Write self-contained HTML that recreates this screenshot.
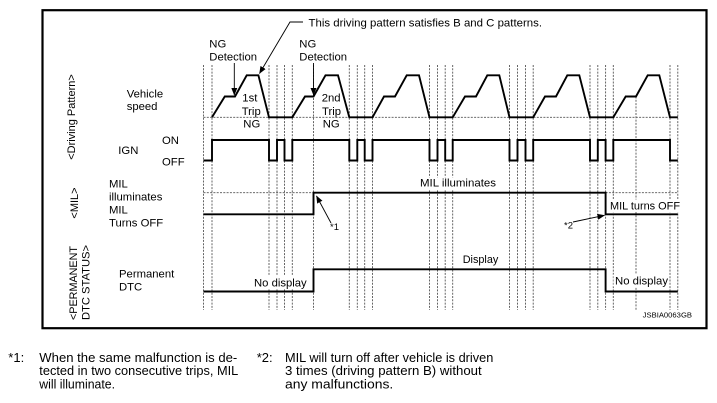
<!DOCTYPE html>
<html><head><meta charset="utf-8">
<style>html,body{margin:0;padding:0;background:#fff}svg{display:block}</style>
</head>
<body>
<svg width="717" height="403" viewBox="0 0 717 403" xmlns="http://www.w3.org/2000/svg" font-family="'Liberation Sans', Arial, sans-serif" fill="#000">
<defs>
<marker id="ah" markerWidth="8" markerHeight="6" refX="7" refY="3" orient="auto" markerUnits="userSpaceOnUse">
<path d="M0,0 L7.5,3 L0,6 z" fill="#000"/>
</marker>
</defs>
<rect x="0" y="0" width="717" height="403" fill="#fff"/>
<rect x="42.5" y="10.2" width="664" height="318" fill="none" stroke="#000" stroke-width="2.2"/>

<!-- vertical dashed lines -->
<g stroke="#555" stroke-width="0.9" stroke-dasharray="2,1.3" fill="none">
<line x1="203.5" y1="65" x2="203.5" y2="310"/>
<line x1="212" y1="65" x2="212" y2="310"/>
<line x1="269" y1="65" x2="269" y2="310"/>
<line x1="277" y1="65" x2="277" y2="310"/>
<line x1="284.5" y1="65" x2="284.5" y2="310"/>
<line x1="292.3" y1="65" x2="292.3" y2="310"/>
<line x1="313.5" y1="65" x2="313.5" y2="310"/>
<line x1="349.3" y1="65" x2="349.3" y2="310"/>
<line x1="357.3" y1="65" x2="357.3" y2="310"/>
<line x1="364.7" y1="65" x2="364.7" y2="310"/>
<line x1="372.5" y1="65" x2="372.5" y2="310"/>
<line x1="429.5" y1="65" x2="429.5" y2="310"/>
<line x1="437.5" y1="65" x2="437.5" y2="310"/>
<line x1="445.2" y1="65" x2="445.2" y2="310"/>
<line x1="452.7" y1="65" x2="452.7" y2="310"/>
<line x1="509.5" y1="65" x2="509.5" y2="310"/>
<line x1="517.5" y1="65" x2="517.5" y2="310"/>
<line x1="525.5" y1="65" x2="525.5" y2="310"/>
<line x1="533.2" y1="65" x2="533.2" y2="310"/>
<line x1="590" y1="65" x2="590" y2="310"/>
<line x1="597.8" y1="65" x2="597.8" y2="310"/>
<line x1="605.6" y1="65" x2="605.6" y2="310"/>
<line x1="613.3" y1="65" x2="613.3" y2="310"/>
<line x1="636" y1="96.5" x2="636" y2="310"/>
<line x1="670" y1="65" x2="670" y2="310"/>
<line x1="677.8" y1="65" x2="677.8" y2="310"/>
<!-- horizontal dashed -->
<line x1="203.5" y1="117.3" x2="677.8" y2="117.3"/>
<line x1="203.5" y1="192.7" x2="313.5" y2="192.7"/>
<line x1="605.6" y1="192.7" x2="677.8" y2="192.7"/>
</g>

<!-- white backgrounds behind labels -->
<g fill="#fff" stroke="none">
<rect x="418.5" y="177.5" width="79" height="12.5"/>
<rect x="608.5" y="199.5" width="73" height="12.5"/>
<rect x="461.5" y="253" width="38" height="13"/>
<rect x="252.5" y="276" width="56" height="13"/>
<rect x="613.5" y="274" width="56" height="13"/>
</g>

<!-- waveforms -->
<g stroke="#000" stroke-width="1.9" fill="none" stroke-linejoin="miter">
<path d="M212,117.3 L224.8,96.5 L235,96.5 L246.7,75.3 L258.4,75.3 L269,117.3 L292.3,117.3 L305,96.5 L313.5,96.5 L325.5,75.3 L338,75.3 L349.3,117.3 L372.5,117.3 L384,96.5 L395,96.5 L406.7,75.3 L419,75.3 L429.5,117.3 L452.7,117.3 L465,96.5 L476,96.5 L487.3,75.3 L499.3,75.3 L509.5,117.3 L533.2,117.3 L545,96.5 L556,96.5 L567.3,75.3 L579.3,75.3 L590,117.3 L613.3,117.3 L625.7,96.5 L636,96.5 L647.7,75.3 L659.3,75.3 L670,117.3 L677.8,117.3"/>
<path d="M203.5,160.5 H212 V140 H269 V160.5 H277 V140 H284.5 V160.5 H292.3 V140 H349.3 V160.5 H357.3 V140 H364.7 V160.5 H372.5 V140 H429.5 V160.5 H437.5 V140 H445.2 V160.5 H452.7 V140 H509.5 V160.5 H517.5 V140 H525.5 V160.5 H533.2 V140 H590 V160.5 H597.8 V140 H605.6 V160.5 H613.3 V140 H670 V160.5 H677.8"/>
<path d="M203.5,214.3 H313.5 V192.7 H605.6 V214.3 H677.8"/>
<path d="M203.5,291.5 H313.5 V269.3 H605.6 V291.5 H677.8"/>
</g>

<!-- arrows -->
<g stroke="#000" stroke-width="0.9" fill="none">
<polyline points="303,22 290,22 259.5,73.5" marker-end="url(#ah)"/>
<line x1="234.3" y1="63" x2="234.3" y2="95" marker-end="url(#ah)"/>
<line x1="313.5" y1="63" x2="313.5" y2="95" marker-end="url(#ah)"/>
<line x1="331" y1="223" x2="316.5" y2="196" marker-end="url(#ah)"/>
<line x1="573" y1="222" x2="604.5" y2="215.3" marker-end="url(#ah)"/>
</g>

<!-- diagram text -->
<g font-size="11.3">
<text x="308.5" y="26.5" textLength="233.5" lengthAdjust="spacingAndGlyphs">This driving pattern satisfies B and C patterns.</text>
<text x="209.3" y="47.7">NG</text>
<text x="209.3" y="60.7">Detection</text>
<text x="299.3" y="47.7">NG</text>
<text x="299.3" y="60.7">Detection</text>
<text x="242.3" y="101.7">1st</text>
<text x="241.7" y="114.8">Trip</text>
<text x="243.3" y="127.7">NG</text>
<text x="321.7" y="101.7">2nd</text>
<text x="322" y="114.8">Trip</text>
<text x="322.7" y="127.7">NG</text>
<text x="126.7" y="97.5">Vehicle</text>
<text x="126.7" y="110.2">speed</text>
<text x="118.3" y="154">IGN</text>
<text x="162" y="144">ON</text>
<text x="162" y="165.7">OFF</text>
<text x="109" y="187.5">MIL</text>
<text x="109" y="200.3">illuminates</text>
<text x="109" y="213.5">MIL</text>
<text x="109" y="226.7">Turns OFF</text>
<text x="119" y="277.5">Permanent</text>
<text x="119" y="290.7">DTC</text>
<text x="420" y="186.7" textLength="76" lengthAdjust="spacingAndGlyphs">MIL illuminates</text>
<text x="610" y="209.5" textLength="70" lengthAdjust="spacingAndGlyphs">MIL turns OFF</text>
<text x="462.7" y="263.2" textLength="35.6" lengthAdjust="spacingAndGlyphs">Display</text>
<text x="254" y="286.5" textLength="52.7" lengthAdjust="spacingAndGlyphs">No display</text>
<text x="615" y="284.3" textLength="53" lengthAdjust="spacingAndGlyphs">No display</text>
</g>
<text x="330" y="230" font-size="9.5">*1</text>
<text x="564" y="228.3" font-size="9.5">*2</text>
<text x="642.7" y="317.5" font-size="7.6" textLength="49.3" lengthAdjust="spacingAndGlyphs">JSBIA0063GB</text>

<!-- rotated labels -->
<g font-size="11">
<text transform="translate(75,117) rotate(-90)" text-anchor="middle">&lt;Driving Pattern&gt;</text>
<text transform="translate(78,203) rotate(-90)" text-anchor="middle">&lt;MIL&gt;</text>
<text transform="translate(77,320) rotate(-90)" textLength="74" lengthAdjust="spacingAndGlyphs">&lt;PERMANENT</text>
<text transform="translate(89.5,320) rotate(-90)" textLength="75" lengthAdjust="spacingAndGlyphs">DTC STATUS&gt;</text>
</g>

<!-- footnotes -->
<g font-size="13">
<text x="8.3" y="361.8">*1:</text>
<text x="39.3" y="361.8" textLength="198" lengthAdjust="spacingAndGlyphs">When the same malfunction is de-</text>
<text x="39.3" y="375.2" textLength="199" lengthAdjust="spacingAndGlyphs">tected in two consecutive trips, MIL</text>
<text x="39.3" y="388.6" textLength="75.7" lengthAdjust="spacingAndGlyphs">will illuminate.</text>
<text x="256.7" y="361.8">*2:</text>
<text x="285" y="361.8" textLength="208.3" lengthAdjust="spacingAndGlyphs">MIL will turn off after vehicle is driven</text>
<text x="285" y="375.2" textLength="196.7" lengthAdjust="spacingAndGlyphs">3 times (driving pattern B) without</text>
<text x="285" y="388.6" textLength="108.3" lengthAdjust="spacingAndGlyphs">any malfunctions.</text>
</g>
</svg>
</body></html>
